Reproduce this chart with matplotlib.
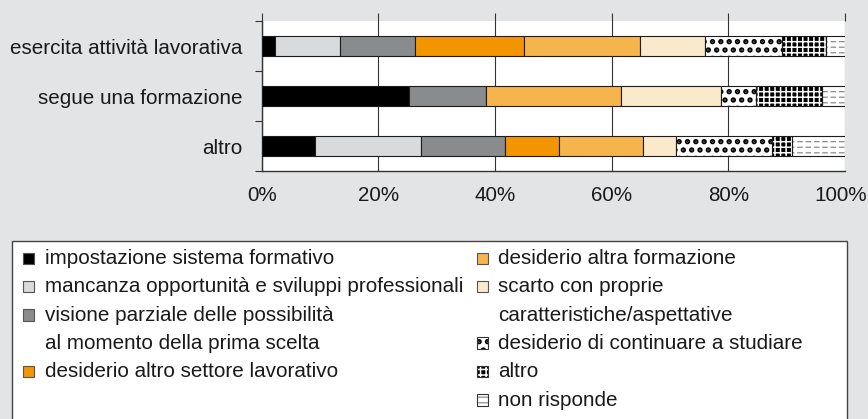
import numpy as np
import matplotlib
matplotlib.use('Agg')
import matplotlib.pyplot as plt
from matplotlib.patches import Rectangle
from matplotlib.transforms import ScaledTranslation

plt.rcParams['font.family'] = ['Liberation Sans', 'DejaVu Sans']

# categories, top to bottom
groups = ['esercita attività lavorativa', 'segue una formazione', 'altro']

# share (%) of each reason, per group (same order as groups)
impostazione = [2.3, 25.2, 9.2]
mancanza = [11.1, 0.0, 18.1]
visione = [12.8, 13.2, 14.4]
altro_settore = [18.7, 0.0, 9.2]
altra_formazione = [20.0, 23.2, 14.5]
scarto = [11.1, 17.2, 5.6]
continuare = [13.2, 6.0, 16.4]
altro = [7.6, 11.3, 3.5]
non_risponde = [3.2, 3.9, 9.1]

series_labels = ['impostazione sistema formativo',
                 'mancanza opportunità e sviluppi professionali',
                 'visione parziale delle possibilità\nal momento della prima scelta',
                 'desiderio altro settore lavorativo',
                 'desiderio altra formazione',
                 'scarto con proprie\ncaratteristiche/aspettative',
                 'desiderio di continuare a studiare',
                 'altro',
                 'non risponde']
series = [impostazione, mancanza, visione, altro_settore, altra_formazione,
          scarto, continuare, altro, non_risponde]

xticks = [0, 20, 40, 60, 80, 100]
xticklabels = ['0%', '20%', '40%', '60%', '80%', '100%']

BG = '#e3e4e6'
EDGE = '#1c1c1c'
TXT = '#1a1a1a'
FS = 14.9

# style per series: facecolor, hatch, hatch colour, hatch linewidth
styles = [
    ('#000000', None, None, None),
    ('#d9dadb', None, None, None),
    ('#8a8b8c', None, None, None),
    ('#f39500', None, None, None),
    ('#f6b54c', None, None, None),
    ('#fbe9cb', None, None, None),
    ('white', '..', 'black', 2.6),
    ('black', '+++', 'white', 1.1),
    ('white', '---', '#8c8c8c', 0.9),
]


def hatch_patch_lw(p, lw):
    if hasattr(p, 'set_hatch_linewidth'):
        p.set_hatch_linewidth(lw)


fig = plt.figure(figsize=(8.68, 4.19), dpi=100, facecolor=BG)
ax = fig.add_axes([261.7 / 868, 1 - 171 / 419, (845 - 261.7) / 868, 150 / 419])
ax.set_facecolor('white')

y = np.arange(len(groups))
left = np.zeros(len(groups))
H = 0.4
for vals, (fc, hatch, hc, hlw) in zip(series, styles):
    vals = np.array(vals)
    if hatch is None:
        ax.barh(y, vals, left=left, height=H, color=fc, edgecolor=EDGE,
                linewidth=0.8, zorder=3)
    else:
        with plt.rc_context({'hatch.linewidth': hlw}):
            bars = ax.barh(y, vals, left=left, height=H, color=fc,
                           edgecolor=hc, linewidth=0, hatch=hatch, zorder=3)
        for p in bars:
            hatch_patch_lw(p, hlw)
        if hatch == '---':
            # break the lines into dashes
            with plt.rc_context({'hatch.linewidth': 2.0}):
                brk = ax.barh(y, vals, left=left, height=H, fill=False,
                              edgecolor='white', linewidth=0, hatch='||',
                              zorder=3.5)
            for p in brk:
                hatch_patch_lw(p, 2.0)
        ax.barh(y, vals, left=left, height=H, fill=False, edgecolor=EDGE,
                linewidth=0.8, zorder=4)
    left += vals

ax.set_xlim(0, 100)
ax.set_ylim(2.5, -0.5)
ax.set_xticks(xticks)
ax.set_xticklabels(xticklabels)
ax.set_yticks(y)
ax.set_yticklabels(groups)
ax.set_yticks([-0.5, 0.5, 1.5, 2.5], minor=True)
ax.tick_params(axis='x', which='major', top=True, bottom=False,
               labelbottom=True, direction='out', length=6, width=0.8,
               color='#333333', pad=5, labelsize=FS, labelcolor=TXT)
ax.tick_params(axis='y', which='major', length=0, pad=14, labelsize=FS,
               labelcolor=TXT)
ax.tick_params(axis='y', which='minor', length=5, width=0.8,
               direction='out', color='#333333')
ax.grid(axis='x', color='#333333', linewidth=0.8, zorder=0)
ax.set_axisbelow(True)
for s in ['top', 'right']:
    ax.spines[s].set_visible(False)
for s in ['left', 'bottom']:
    ax.spines[s].set_color('#333333')
    ax.spines[s].set_linewidth(1.0)

# last label sits a bit left so it stays inside the figure
lab100 = ax.get_xticklabels()[-1]
lab100.set_transform(lab100.get_transform() + ScaledTranslation(-4 / 100, 0, fig.dpi_scale_trans))

# legend box, drawn by hand in pixel positions
W, Hh = 868.0, 419.0


def fx(px):
    return px / W


def fy(py):
    return 1 - py / Hh


box = Rectangle((fx(11.7), fy(425)), fx(846.7) - fx(11.7), fy(240.7) - fy(425),
                transform=fig.transFigure, facecolor='white',
                edgecolor='#444444', linewidth=1.0, clip_on=False)
fig.add_artist(box)

line_h = 28.3
first_base = 264.0
cols = [0, 0, 0, 0, 1, 1, 1, 1, 1]
col_x = [(23.3, 45.0), (476.7, 498.3)]
line_idx = [0, 0]
for lab, (fc, hatch, hc, hlw), c in zip(series_labels, styles, cols):
    base = first_base + line_idx[c] * line_h
    mx, tx = col_x[c]
    kw = dict(transform=fig.transFigure, clip_on=False)
    rect = ((fx(mx), fy(base)), fx(11) - fx(0), fy(base - 11.5) - fy(base))
    if hatch is None:
        fig.add_artist(Rectangle(*rect, facecolor=fc, edgecolor='#555555',
                                 linewidth=0.8, **kw))
    else:
        with plt.rc_context({'hatch.linewidth': hlw}):
            r = Rectangle(*rect, facecolor=fc, edgecolor=hc, linewidth=0,
                          hatch=hatch, **kw)
        hatch_patch_lw(r, hlw)
        fig.add_artist(r)
        fig.add_artist(Rectangle(*rect, fill=False, edgecolor='#333333',
                                 linewidth=0.8, **kw))
    for k, part in enumerate(lab.split('\n')):
        fig.text(fx(tx), fy(base + k * line_h), part, fontsize=FS, color=TXT,
                 va='baseline', ha='left')
    line_idx[c] += lab.count('\n') + 1

fig.savefig('out.png', dpi=100, facecolor=BG)
